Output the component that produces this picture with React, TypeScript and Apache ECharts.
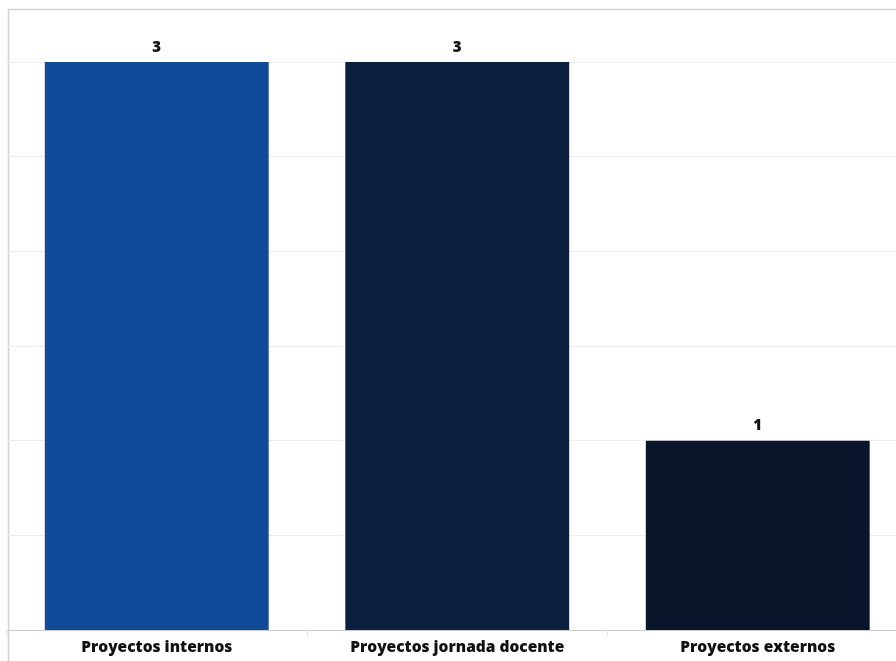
import React, { useEffect, useRef } from "react";
import * as echarts from "echarts";

const categories = ["Proyectos internos", "Proyectos jornada docente", "Proyectos externos"];
const values = [3, 3, 1];
const barColors = ["#114a99", "#0b1f3f", "#08152b"];

export default function App() {
  const ref = useRef<HTMLDivElement>(null);
  useEffect(() => {
    if (!ref.current) return;
    const chart = echarts.init(ref.current, null, { renderer: "svg" });
    chart.setOption({
      animation: false,
      grid: { left: 6.5, width: 901.5, top: 62, height: 568, containLabel: false, outerBoundsMode: "none" },
      xAxis: {
        type: "category",
        data: categories,
        axisLine: { show: true, lineStyle: { color: "#cccccc", width: 1 } },
        axisTick: { show: true, length: 6, lineStyle: { color: "#e6e6e6" } },
        axisLabel: {
          color: "#111111",
          fontFamily: "Open Sans",
          fontWeight: 800,
          fontSize: 15.5,
          margin: 8,
        },
      },
      yAxis: {
        type: "value",
        min: 0,
        max: 3,
        interval: 0.5,
        axisLabel: { show: false },
        axisLine: { show: false },
        axisTick: { show: false },
        splitLine: { lineStyle: { color: "#eeeeee" } },
      },
      series: [
        {
          type: "bar",
          barWidth: "74.5%",
          data: values.map((v, i) => ({ value: v, itemStyle: { color: barColors[i] } })),
          label: {
            show: true,
            position: "top",
            distance: 9,
            color: "#111111",
            fontFamily: "Open Sans",
            fontWeight: 800,
            fontSize: 15,
          },
        },
      ],
      graphic: [
        { type: "line", shape: { x1: 8, y1: 9.5, x2: 920, y2: 9.5 }, style: { stroke: "#d4d4d4", lineWidth: 1.5 } },
        { type: "line", shape: { x1: 8.5, y1: 9, x2: 8.5, y2: 661 }, style: { stroke: "#d4d4d4", lineWidth: 1.5 } },
      ],
    });
    return () => chart.dispose();
  }, []);
  return <div ref={ref} style={{ position: "fixed", left: 0, top: 0, width: 920, height: 661 }} />;
}
